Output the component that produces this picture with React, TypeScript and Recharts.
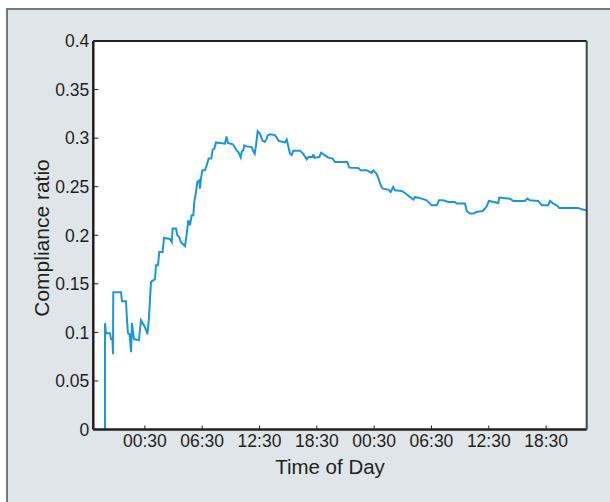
import React from 'react';
import { LineChart, Line, XAxis, YAxis, CartesianGrid } from 'recharts';

// time in hours from midnight of the first day
const hours = [
  20.32, 20.32, 20.43, 20.85, 20.95, 21.11, 21.16, 21.19, 22.0, 22.1,
  22.52, 22.63, 22.73, 22.89, 22.94, 23.05, 23.15, 23.36, 23.88, 24.09,
  24.51, 24.77, 24.93, 25.14, 25.56, 25.66, 25.87, 26.01, 26.36, 26.5,
  27.13, 27.31, 27.41, 27.76, 27.89, 28.1, 28.25, 28.7, 28.88, 29.04,
  29.22, 29.4, 29.57, 29.67, 29.85, 29.99, 30.2, 30.27, 30.37, 30.51,
  30.79, 30.97, 31.18, 31.45, 31.6, 31.77, 31.94, 32.89, 33.04, 33.2,
  33.72, 34.11, 34.28, 34.53, 34.63, 34.8, 34.91, 35.16, 35.68, 35.85,
  36.0, 36.13, 36.31, 36.55, 36.83, 37.07, 37.25, 37.36, 37.6, 38.12,
  38.54, 39.17, 39.35, 39.69, 39.87, 40.04, 40.74, 41.08, 41.44, 41.61,
  42.07, 42.13, 42.23, 42.76, 42.94, 43.35, 43.7, 44.16, 44.4, 45.69,
  45.9, 46.84, 47.09, 47.72, 48.24, 48.41, 48.69, 48.83, 49.19, 49.39,
  49.98, 50.23, 50.5, 50.68, 51.38, 51.73, 52.15, 52.6, 52.78, 53.48,
  54.0, 54.52, 55.05, 55.29, 55.74, 56.26, 56.96, 57.14, 58.01, 58.19,
  58.53, 58.95, 59.16, 59.86, 60.1, 60.28, 60.52, 61.49, 61.6, 62.72,
  63.07, 64.29, 64.53, 64.81, 65.68, 66.04, 66.73, 66.91, 67.25, 67.61,
  67.88, 69.87, 70.23, 70.73,
];

const ratio = [
  0, 0.1095, 0.0992, 0.0992, 0.0931, 0.0931, 0.0776, 0.1414, 0.1414, 0.1321,
  0.1321, 0.1126, 0.0992, 0.0982, 0.0931, 0.0797, 0.1095, 0.0931, 0.092, 0.1126,
  0.1054, 0.0982, 0.1157, 0.152, 0.1548, 0.1692, 0.1692, 0.1828, 0.1828, 0.1972,
  0.1962, 0.1931, 0.2069, 0.2069, 0.2, 0.1982, 0.1931, 0.1887, 0.2017, 0.2154,
  0.2103, 0.2206, 0.2206, 0.2342, 0.2445, 0.2548, 0.2566, 0.248, 0.2583, 0.2668,
  0.2668, 0.272, 0.2789, 0.2789, 0.2881, 0.2892, 0.2956, 0.2943, 0.3018, 0.2949,
  0.2936, 0.2874, 0.2857, 0.2802, 0.2857, 0.2874, 0.2925, 0.2915, 0.2908, 0.2867,
  0.284, 0.2925, 0.3072, 0.3046, 0.297, 0.2963, 0.2994, 0.3028, 0.3039, 0.3031,
  0.297, 0.2956, 0.2984, 0.284, 0.2826, 0.2871, 0.2871, 0.2838, 0.2781, 0.2805,
  0.2805, 0.2833, 0.2799, 0.2805, 0.285, 0.2823, 0.2799, 0.2789, 0.2754, 0.2754,
  0.2696, 0.2692, 0.2668, 0.2668, 0.2641, 0.2668, 0.2641, 0.2617, 0.2514, 0.248,
  0.247, 0.2445, 0.2497, 0.2463, 0.2456, 0.2435, 0.2401, 0.2367, 0.2394, 0.2377,
  0.236, 0.2308, 0.2308, 0.236, 0.236, 0.2342, 0.2342, 0.2326, 0.2326, 0.225,
  0.2223, 0.2223, 0.224, 0.225, 0.2275, 0.2298, 0.2353, 0.2332, 0.2388, 0.2377,
  0.2353, 0.2353, 0.2377, 0.236, 0.2353, 0.2308, 0.2308, 0.2353, 0.2326, 0.2308,
  0.2281, 0.2281, 0.2267, 0.2257,
];

const xTicks = [24.5, 30.5, 36.5, 42.5, 48.5, 54.5, 60.5, 66.5];
const yTicks = [0, 0.05, 0.1, 0.15, 0.2, 0.25, 0.3, 0.35, 0.4];

const data = hours.map((h, i) => ({ h, v: ratio[i] }));

const pad = (n: number) => String(n).padStart(2, '0');
const fmtTime = (h: number) => `${pad(Math.floor(h % 24))}:${pad(Math.round((h % 1) * 60))}`;
const fmtRatio = (v: number) => String(Number(v.toFixed(2)));

const font = '"Liberation Sans", Arial, Helvetica, sans-serif';
const ink = '#231f20';
const xDomain = [19.1, 70.75];
const tickFont = 17.5;

const TimeTick = (props: any) => (
  <text x={props.x} y={props.y} dy="0.71em" textAnchor="middle" fill={ink} fontSize={tickFont} fontFamily={font}>
    {fmtTime(props.payload.value)}
  </text>
);

const RatioTick = (props: any) => (
  <text x={props.x} y={props.y} dy="0.36em" textAnchor="end" fill={ink} fontSize={tickFont} fontFamily={font}>
    {fmtRatio(props.payload.value)}
  </text>
);

export default function App() {
  return (
    <div style={{ position: 'fixed', left: 0, top: 0, width: 610, height: 502, background: '#fff', overflow: 'hidden', fontFamily: font }}>
      <div
        style={{
          position: 'absolute', left: 6, top: 8, width: 620, height: 510,
          background: '#e0e5e9', border: '2px solid #777', boxSizing: 'border-box',
        }}
      />
      <div style={{ position: 'absolute', left: 0, top: 0 }}>
        {/* plot box: x 93.3..586.7, y 41..429.5 */}
        <LineChart width={610} height={502} data={data} margin={{ top: 31, right: 13.3, bottom: 42.5, left: 33.3 }}>
          <CartesianGrid fill="#fff" horizontal={false} vertical={false} />
          <XAxis
            dataKey="h" type="number" domain={xDomain} ticks={xTicks}
            height={30} tickSize={-4} tickMargin={9} allowDataOverflow
            axisLine={{ stroke: ink, strokeWidth: 2.5 }} tickLine={{ stroke: ink }}
            tick={<TimeTick />}
          />
          <XAxis
            xAxisId="top" orientation="top" dataKey="h" type="number" domain={xDomain} ticks={xTicks}
            height={10} tickSize={-4} tick={false} allowDataOverflow
            axisLine={{ stroke: ink, strokeWidth: 2 }} tickLine={{ stroke: ink }}
          />
          <YAxis
            type="number" domain={[0, 0.4]} ticks={yTicks}
            width={60} tickSize={-5} tickMargin={9} allowDataOverflow
            axisLine={{ stroke: ink, strokeWidth: 2.5 }} tickLine={{ stroke: ink }}
            tick={<RatioTick />}
          />
          <YAxis
            yAxisId="right" orientation="right" type="number" domain={[0, 0.4]} ticks={yTicks}
            width={10} tickSize={-5} tick={false} allowDataOverflow
            axisLine={{ stroke: '#444', strokeWidth: 2 }} tickLine={{ stroke: '#444' }}
          />
          <Line
            dataKey="v" type="linear" stroke="#1a98d5" strokeWidth={2}
            dot={false} activeDot={false} isAnimationActive={false}
          />
        </LineChart>
      </div>
      <div
        style={{
          position: 'absolute', left: 41.7, top: 238, transform: 'translate(-50%, -50%) rotate(-90deg)',
          fontSize: 21, color: ink, whiteSpace: 'nowrap',
        }}
      >
        Compliance ratio
      </div>
      <div
        style={{
          position: 'absolute', left: 330, top: 467, transform: 'translate(-50%, -50%)',
          fontSize: 20.5, color: ink, whiteSpace: 'nowrap',
        }}
      >
        Time of Day
      </div>
    </div>
  );
}
